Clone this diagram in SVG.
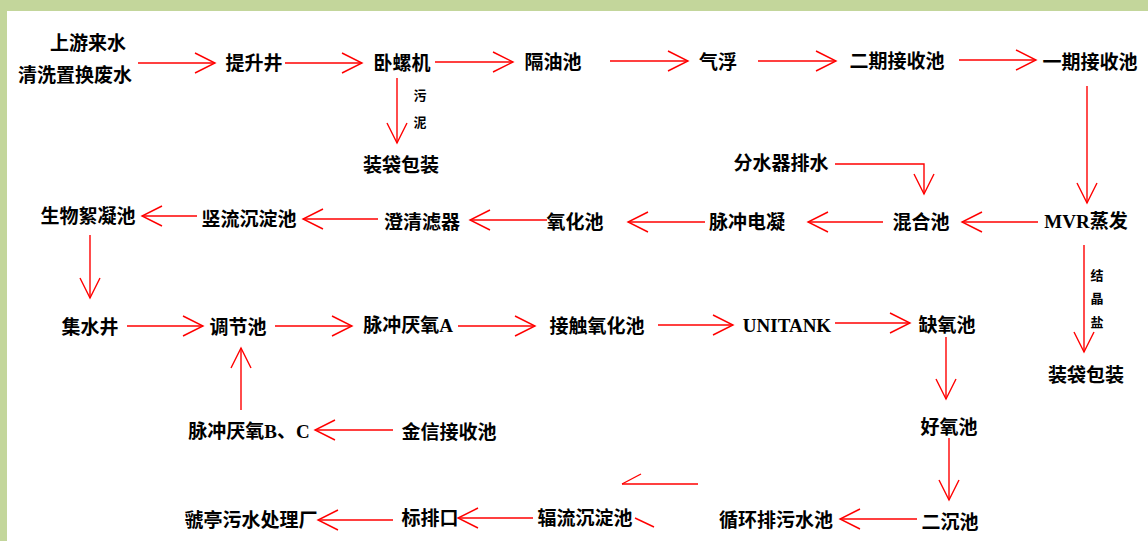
<svg xmlns="http://www.w3.org/2000/svg" width="1148" height="541" viewBox="0 0 1148 541">
<style>
.t{font-family:"Liberation Serif","Noto Sans CJK SC",serif;font-weight:bold;font-size:19px;fill:#000;text-anchor:middle}
.s{font-family:"Liberation Serif","Noto Sans CJK SC",serif;font-weight:bold;font-size:13px;fill:#000;text-anchor:middle}
.c line,.c polyline,.c path{stroke:#FF0000;stroke-width:1.4;fill:none}
</style>
<defs>
<marker id="a" markerUnits="userSpaceOnUse" viewBox="-22 -12 24 24" markerWidth="24" markerHeight="24" refX="0" refY="0" orient="auto">
<path d="M-20,-10 L0,0 L-20,10" fill="none" stroke="#FF0000" stroke-width="1.4"/>
</marker>
</defs>
<rect x="0" y="0" width="1148" height="541" fill="#C3D69B"/>
<rect x="7" y="11" width="1141" height="530" fill="#FFFFFF"/>
<g class="c" id="connectors">
<line x1="138" y1="63" x2="215" y2="63" marker-end="url(#a)"/>
<line x1="285" y1="63" x2="362" y2="63" marker-end="url(#a)"/>
<line x1="435" y1="62" x2="513" y2="62" marker-end="url(#a)"/>
<line x1="610" y1="61" x2="688" y2="61" marker-end="url(#a)"/>
<line x1="758" y1="61" x2="836" y2="61" marker-end="url(#a)"/>
<line x1="959" y1="60" x2="1036" y2="60" marker-end="url(#a)"/>
<line x1="1087" y1="86" x2="1087" y2="203" marker-end="url(#a)"/>
<line x1="397" y1="78" x2="397" y2="143" marker-end="url(#a)"/>
<polyline points="835,164 924,164 924,194" marker-end="url(#a)"/>
<line x1="1038" y1="222" x2="962" y2="222" marker-end="url(#a)"/>
<line x1="883" y1="222" x2="808" y2="222" marker-end="url(#a)"/>
<line x1="705" y1="222" x2="628" y2="222" marker-end="url(#a)"/>
<line x1="547" y1="220" x2="470" y2="220" marker-end="url(#a)"/>
<line x1="378" y1="219" x2="303" y2="219" marker-end="url(#a)"/>
<line x1="197" y1="216" x2="142" y2="216" marker-end="url(#a)"/>
<line x1="90" y1="235" x2="90" y2="298" marker-end="url(#a)"/>
<line x1="127" y1="326" x2="203" y2="326" marker-end="url(#a)"/>
<line x1="275" y1="326" x2="352" y2="326" marker-end="url(#a)"/>
<line x1="458" y1="326" x2="535" y2="326" marker-end="url(#a)"/>
<line x1="658" y1="325" x2="733" y2="325" marker-end="url(#a)"/>
<line x1="835" y1="323" x2="910" y2="323" marker-end="url(#a)"/>
<line x1="946" y1="337" x2="946" y2="399" marker-end="url(#a)"/>
<line x1="949" y1="438" x2="949" y2="500" marker-end="url(#a)"/>
<line x1="917" y1="519" x2="840" y2="519" marker-end="url(#a)"/>
<line x1="698" y1="484" x2="622" y2="484"/>
<path d="M641,474 L622,484"/>
<path d="M635,518 L654,527"/>
<line x1="533" y1="518" x2="458" y2="518" marker-end="url(#a)"/>
<line x1="393" y1="520" x2="318" y2="520" marker-end="url(#a)"/>
<line x1="393" y1="430" x2="315" y2="430" marker-end="url(#a)"/>
<line x1="241" y1="410" x2="241" y2="348" marker-end="url(#a)"/>
<line x1="1084" y1="245" x2="1084" y2="352" marker-end="url(#a)"/>
</g>
<g id="n-source"><text class="t" x="50" y="50" style="text-anchor:start">上游来水</text><text class="t" x="18" y="82" style="text-anchor:start">清洗置换废水</text></g>
<g id="n-tishengjing"><text class="t" x="254" y="70">提升井</text></g>
<g id="n-woluoji"><text class="t" x="402" y="70">卧螺机</text></g>
<g id="n-geyouchi"><text class="t" x="553" y="69">隔油池</text></g>
<g id="n-qifu"><text class="t" x="718" y="69">气浮</text></g>
<g id="n-erqi"><text class="t" x="897" y="68">二期接收池</text></g>
<g id="n-yiqi"><text class="t" x="1090" y="69">一期接收池</text></g>
<g id="l-wuni"><text class="s" x="420" y="100">污</text><text class="s" x="420" y="127">泥</text></g>
<g id="n-bag1"><text class="t" x="401" y="172">装袋包装</text></g>
<g id="n-fenshuiqi"><text class="t" x="781" y="170">分水器排水</text></g>
<g id="n-hunhe"><text class="t" x="921" y="229">混合池</text></g>
<g id="n-mvr"><text class="t" x="1086" y="228">MVR蒸发</text></g>
<g id="n-dianning"><text class="t" x="747" y="229">脉冲电凝</text></g>
<g id="n-yanghua"><text class="t" x="575" y="229">氧化池</text></g>
<g id="n-chengqing"><text class="t" x="422" y="229">澄清滤器</text></g>
<g id="n-shuliu"><text class="t" x="249" y="226">竖流沉淀池</text></g>
<g id="n-shengwu"><text class="t" x="88" y="223">生物絮凝池</text></g>
<g id="l-jingyan"><text class="s" x="1097" y="280">结</text><text class="s" x="1097" y="303">晶</text><text class="s" x="1097" y="327">盐</text></g>
<g id="n-bag2"><text class="t" x="1086" y="382">装袋包装</text></g>
<g id="n-jishui"><text class="t" x="90" y="334">集水井</text></g>
<g id="n-tiaojie"><text class="t" x="238" y="334">调节池</text></g>
<g id="n-yanyangA"><text class="t" x="408" y="332">脉冲厌氧A</text></g>
<g id="n-jiechu"><text class="t" x="597" y="333">接触氧化池</text></g>
<g id="n-unitank"><text class="t" x="787" y="332">UNITANK</text></g>
<g id="n-queyang"><text class="t" x="947" y="332">缺氧池</text></g>
<g id="n-haoyang"><text class="t" x="949" y="434">好氧池</text></g>
<g id="n-erchen"><text class="t" x="950" y="529">二沉池</text></g>
<g id="n-xunhuan"><text class="t" x="776" y="527">循环排污水池</text></g>
<g id="n-fuliu"><text class="t" x="585" y="525">辐流沉淀池</text></g>
<g id="n-biaopai"><text class="t" x="430" y="525">标排口</text></g>
<g id="n-guoting"><text class="t" x="251" y="527">虢亭污水处理厂</text></g>
<g id="n-yanyangBC"><text class="t" x="249" y="438">脉冲厌氧B、C</text></g>
<g id="n-jinxin"><text class="t" x="449" y="439">金信接收池</text></g>
</svg>
